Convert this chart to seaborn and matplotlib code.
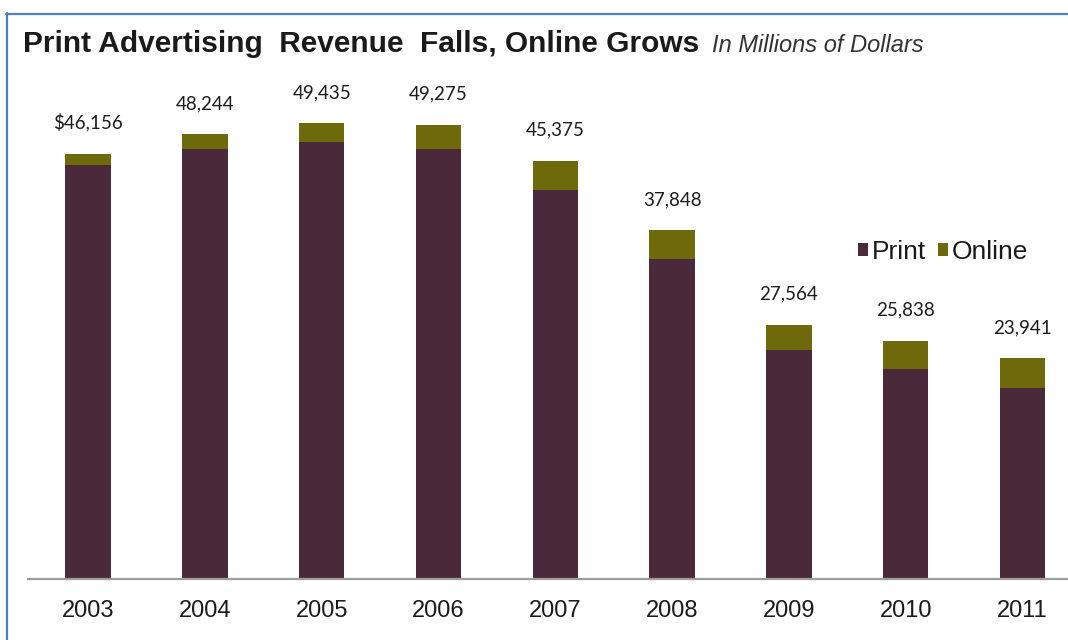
import matplotlib
matplotlib.use("Agg")
import matplotlib.pyplot as plt
from matplotlib.patches import Patch
from matplotlib.lines import Line2D
import seaborn as sns
import pandas as pd

# Newspaper advertising revenue, millions of dollars
years = ["2003", "2004", "2005", "2006", "2007", "2008", "2009", "2010", "2011"]
print_rev = [44940, 46703, 47408, 46611, 42209, 34739, 24821, 22796, 20692]
online_rev = [1216, 1541, 2027, 2664, 3166, 3109, 2743, 3042, 3249]
total_labels = ["$46,156", "48,244", "49,435", "49,275", "45,375",
                "37,848", "27,564", "25,838", "23,941"]

PRINT_COLOR = "#4a2a3a"
ONLINE_COLOR = "#6e6a0c"

df = pd.DataFrame({"year": years, "print": print_rev, "online": online_rev})
df["total"] = df["print"] + df["online"]

sns.set_theme(style="white")
plt.rcParams["font.family"] = ["Liberation Sans", "DejaVu Sans"]

W, H = 1068, 640
fig = plt.figure(figsize=(W / 100, H / 100), dpi=100)
fig.patch.set_facecolor("white")

ax_left, ax_bottom = 28 / W, 1 - 579 / H
ax = fig.add_axes([ax_left, ax_bottom, 1 - ax_left, 1 - ax_bottom - 26 / H])

# stacked bars: total (online on top) drawn first, print drawn over it
sns.barplot(data=df, x="year", y="total", color=ONLINE_COLOR, width=0.39,
            saturation=1, ax=ax, linewidth=0)
sns.barplot(data=df, x="year", y="print", color=PRINT_COLOR, width=0.39,
            saturation=1, ax=ax, linewidth=0)

ax.set_xlim(-0.515, 8.39)
ax.set_ylim(0, 60000)
ax.set_xlabel("")
ax.set_ylabel("")
ax.set_yticks([])
for side in ["top", "right", "left"]:
    ax.spines[side].set_visible(False)
ax.spines["bottom"].set_color("#9c9c9c")
ax.spines["bottom"].set_linewidth(1.6)
ax.tick_params(axis="x", length=0, pad=15, labelsize=17, labelcolor="#1a1a1a")

# total labels above each stack
for i, (tot, lab) in enumerate(zip(df["total"], total_labels)):
    ax.annotate(lab, xy=(i, tot), xytext=(0, 16), textcoords="offset points",
                ha="center", va="bottom", fontsize=13.5, color="#1c1c1c",
                family=["Lato", "DejaVu Sans"])

# legend with small square markers
handles = [Patch(facecolor=PRINT_COLOR, edgecolor="none"),
           Patch(facecolor=ONLINE_COLOR, edgecolor="none")]
leg = fig.legend(handles, ["Print", "Online"], loc="center",
                 bbox_to_anchor=(943 / W, 1 - 252 / H), ncol=2, frameon=False,
                 fontsize=19, handlelength=0.38, handleheight=0.38,
                 handletextpad=0.15, columnspacing=0.45, borderpad=0)
for t in leg.get_texts():
    t.set_color("#1a1a1a")

# title and subtitle
fig.text(23 / W, 1 - 52 / H, "Print Advertising  Revenue  Falls, Online Grows",
         fontsize=21.5, fontweight="bold", color="#1a1a1a", va="baseline")
fig.text(712 / W, 1 - 52 / H, "In Millions of Dollars", fontsize=17,
         fontstyle="italic", color="#333333", va="baseline")

# blue frame around the chart
frame_color = "#4f7fc4"
fig.add_artist(Line2D([6.5 / W, 6.5 / W], [0, 1 - 13 / H], color=frame_color,
                      linewidth=1.6, transform=fig.transFigure))
fig.add_artist(Line2D([6 / W, 1], [1 - 13.5 / H, 1 - 13.5 / H], color=frame_color,
                      linewidth=1.6, transform=fig.transFigure))

fig.savefig("out.png", dpi=100)
